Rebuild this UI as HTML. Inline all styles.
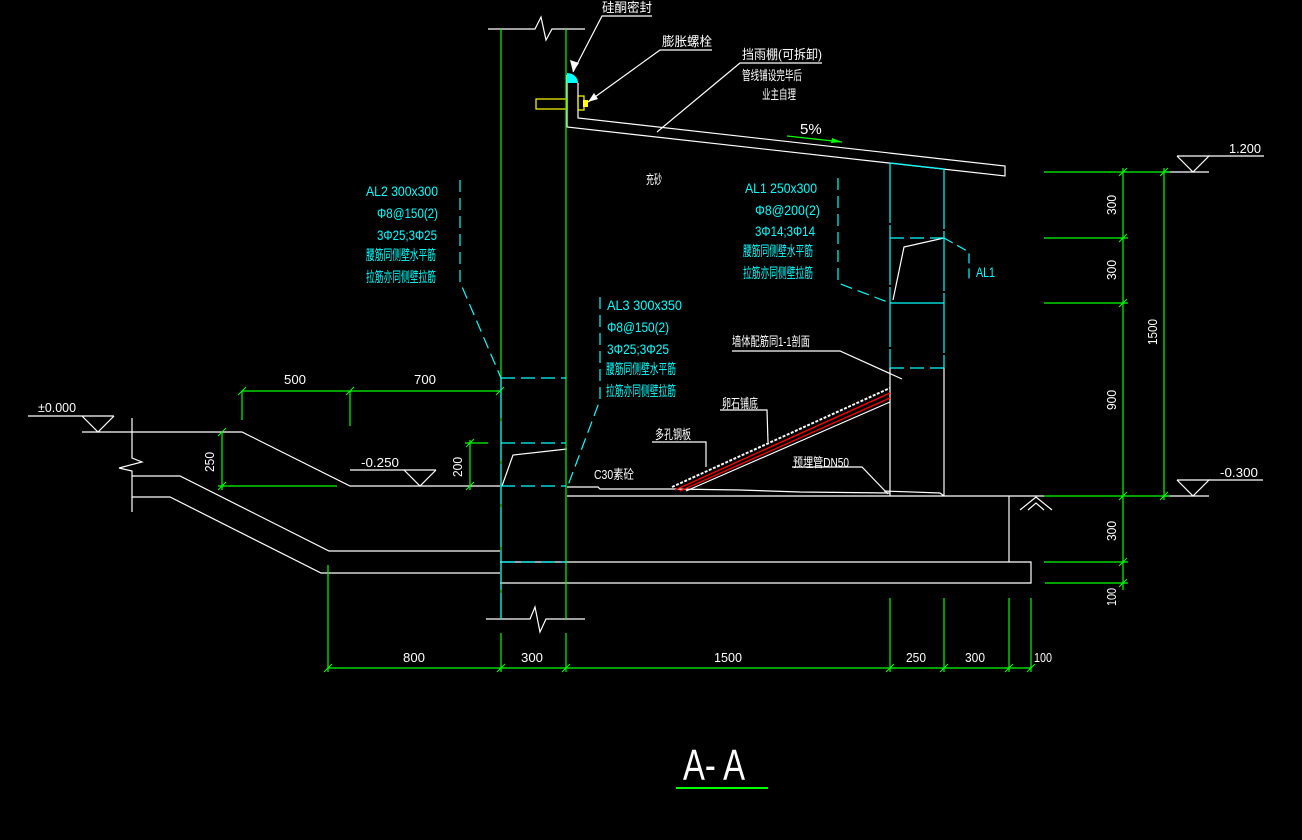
<!DOCTYPE html>
<html><head><meta charset="utf-8"><style>
html,body{margin:0;padding:0;background:#000;}
svg{display:block}
text{font-family:"Liberation Sans","Noto Sans CJK SC",sans-serif;}
.w{fill:#fff}.c{fill:#00ffff}
</style></head><body>
<svg width="1302" height="840" viewBox="0 0 1302 840" xmlns="http://www.w3.org/2000/svg">
<rect width="1302" height="840" fill="#000"/>
<g fill="none" stroke="#fff" stroke-width="1.2">
<polyline points="28,416 114,416"/>
<polyline points="82,416 98,432 114,416"/>
<polyline points="82,432 242,432 350,486 500,486"/>
<polyline points="132,418 132,458 142,462 119,468 132,471 132,512"/>
<polyline points="132,476 180,476 329,551 500,551"/>
<polyline points="132,497 170,497 321,573 500,573"/>
<polyline points="350,470 436,470"/>
<polyline points="404,470 420,486 436,470"/>
<polyline points="488,29 535,29 541,17 546,40 552,29 585,29"/>
<polyline points="486,619 530,619 535,607 540,632 546,619 585,619"/>
<polyline points="567,449 513,455 502,486"/>
<polyline points="567,75 567,127 1005,176 1005,166 578,118 578,83"/>
<polyline points="567,487 598,487 600,489 672,489 740,490 800,492 890,493"/>
<polyline points="567,496 1044,496"/>
<polyline points="1009,496 1009,562"/>
<polyline points="500,562 1031,562 1031,583 500,583"/>
<polyline points="890,368 890,496"/>
<polyline points="944,368 944,496"/>
<polyline points="944,238 904,247 893,300"/>
<polyline points="884,491 940,493 944,496"/>
<polyline points="1020,510 1036,497 1052,510"/>
<polyline points="1028,510 1036,503 1044,510"/>
<polyline points="1164,172 1209,172"/>
<polyline points="1177,156 1193,172 1209,156 1177,156"/>
<polyline points="1209,156 1264,156"/>
<polyline points="1164,496 1209,496"/>
<polyline points="1177,480 1193,496 1209,480 1177,480"/>
<polyline points="1209,480 1263,480"/>
<polyline points="672,487 890,388" stroke-dasharray="3,1.5" stroke-width="2"/>
<polyline points="686,491 890,402"/>
<polyline points="652,16 602,16 573,72"/>
<polyline points="712,50 660,50 588,102"/>
<polyline points="822,63 740,63 657,132"/>
<polyline points="732,351 840,351 902,379"/>
<polyline points="720,410 767,410 768,442"/>
<polyline points="652,442 706,442 706,467"/>
<polyline points="792,467 862,467 888,494"/>
</g>
<polygon points="573,72 570,60 579,63" fill="#fff"/>
<polygon points="588,102 594,93 598,99" fill="#fff"/>
<g fill="none" stroke="#ff0000" stroke-width="1.3">
<polyline points="675,490 890,393"/>
<polyline points="680,491 890,398"/>
</g>
<path d="M567,83 L567,73 A11,10 0 0 1 578,83 Z" fill="#00ffff"/>
<g fill="none" stroke="#ffff00" stroke-width="1.2">
<rect x="536" y="99" width="31" height="10"/>
<rect x="578" y="96" width="6" height="14"/>
</g>
<rect x="583" y="100" width="5" height="7" fill="#ffff00"/>
<g fill="none" stroke="#00ff00" stroke-width="1.2">
<line x1="501" y1="29" x2="501" y2="619"/>
<line x1="566" y1="29" x2="566" y2="619"/>
<line x1="242" y1="391" x2="500" y2="391"/>
<line x1="242" y1="391" x2="242" y2="420"/>
<line x1="350" y1="391" x2="350" y2="426"/>
<line x1="222" y1="432" x2="222" y2="490"/>
<line x1="218" y1="486" x2="337" y2="486"/>
<line x1="470" y1="440" x2="470" y2="490"/>
<line x1="465" y1="443" x2="488" y2="443"/>
<line x1="328" y1="668" x2="1031" y2="668"/>
<line x1="328" y1="565" x2="328" y2="672"/>
<line x1="501" y1="633" x2="501" y2="672"/>
<line x1="566" y1="633" x2="566" y2="672"/>
<line x1="890" y1="598" x2="890" y2="672"/>
<line x1="944" y1="598" x2="944" y2="672"/>
<line x1="1009" y1="598" x2="1009" y2="672"/>
<line x1="1031" y1="598" x2="1031" y2="672"/>
<line x1="1123" y1="168" x2="1123" y2="590"/>
<line x1="1164" y1="168" x2="1164" y2="500"/>
<line x1="1044" y1="172" x2="1170" y2="172"/>
<line x1="1044" y1="238" x2="1128" y2="238"/>
<line x1="1044" y1="303" x2="1128" y2="303"/>
<line x1="1044" y1="496" x2="1170" y2="496"/>
<line x1="1044" y1="562" x2="1128" y2="562"/>
<line x1="1045" y1="583" x2="1128" y2="583"/>
<line x1="787" y1="136" x2="842" y2="142"/>
<line x1="676" y1="788" x2="768" y2="788" stroke-width="2"/>
</g>
<polygon points="842,142 832,138 831,143" fill="#00ff00"/>
<g stroke="#00ff00" stroke-width="1">
<path d="M238,395 l8,-8 M346,395 l8,-8 M496,395 l8,-8 M218,436 l8,-8 M218,490 l8,-8 M466,447 l8,-8 M466,490 l8,-8 M324,672 l8,-8 M497,672 l8,-8 M562,672 l8,-8 M886,672 l8,-8 M940,672 l8,-8 M1005,672 l8,-8 M1027,672 l8,-8 M1119,176 l8,-8 M1160,176 l8,-8 M1119,242 l8,-8 M1119,307 l8,-8 M1119,500 l8,-8 M1160,500 l8,-8 M1119,566 l8,-8 M1119,587 l8,-8"/>
</g>
<g fill="none" stroke="#00ffff" stroke-width="1.2">
<line x1="501" y1="378" x2="566" y2="378" stroke-dasharray="14,6"/>
<line x1="501" y1="443" x2="566" y2="443" stroke-dasharray="14,6"/>
<line x1="501" y1="486" x2="566" y2="486" stroke-dasharray="14,6"/>
<line x1="501" y1="562" x2="566" y2="562" stroke-dasharray="14,6"/>
<line x1="501" y1="378" x2="501" y2="619" stroke-dasharray="40,3"/>
<line x1="890" y1="163" x2="944" y2="169"/>
<line x1="890" y1="163" x2="890" y2="368" stroke-dasharray="60,2"/>
<line x1="944" y1="169" x2="944" y2="368" stroke-dasharray="60,2"/>
<line x1="890" y1="238" x2="944" y2="238" stroke-dasharray="14,6"/>
<line x1="890" y1="303" x2="944" y2="303"/>
<line x1="890" y1="368" x2="944" y2="368" stroke-dasharray="14,6"/>
<polyline points="460,180 460,282 501,378" stroke-dasharray="12,6"/>
<polyline points="838,178 838,283 890,303" stroke-dasharray="12,6"/>
<polyline points="600,297 600,400 567,488" stroke-dasharray="12,6"/>
<polyline points="944,238 969,252 969,282" stroke-dasharray="10,5"/>
</g>
<g class="w" font-size="13">
<text x="602" y="12" textLength="50" lengthAdjust="spacingAndGlyphs">硅酮密封</text>
<text x="662" y="46" textLength="50" lengthAdjust="spacingAndGlyphs">膨胀螺栓</text>
<text x="742" y="59" textLength="80" lengthAdjust="spacingAndGlyphs">挡雨棚(可拆卸)</text>
<text x="742" y="80" textLength="60" lengthAdjust="spacingAndGlyphs">管线铺设完毕后</text>
<text x="762" y="99" textLength="34" lengthAdjust="spacingAndGlyphs">业主自理</text>
<text x="800" y="134" font-size="15">5%</text>
<text x="646" y="184" textLength="16" lengthAdjust="spacingAndGlyphs">充砂</text>
<text x="732" y="346" textLength="78" lengthAdjust="spacingAndGlyphs">墙体配筋同1-1剖面</text>
<text x="722" y="408" textLength="36" lengthAdjust="spacingAndGlyphs">卵石铺底</text>
<text x="655" y="439" textLength="36" lengthAdjust="spacingAndGlyphs">多孔钢板</text>
<text x="594" y="479" textLength="40" lengthAdjust="spacingAndGlyphs">C30素砼</text>
<text x="793" y="467" textLength="56" lengthAdjust="spacingAndGlyphs">预埋管DN50</text>
<text x="38" y="412" textLength="38" lengthAdjust="spacingAndGlyphs">±0.000</text>
<text x="284" y="384" textLength="22" lengthAdjust="spacingAndGlyphs">500</text>
<text x="414" y="384" textLength="22" lengthAdjust="spacingAndGlyphs">700</text>
<text x="361" y="467" textLength="38" lengthAdjust="spacingAndGlyphs">-0.250</text>
<text x="1229" y="153" textLength="32" lengthAdjust="spacingAndGlyphs">1.200</text>
<text x="1220" y="477" textLength="38" lengthAdjust="spacingAndGlyphs">-0.300</text>
<text x="403" y="662" textLength="22" lengthAdjust="spacingAndGlyphs">800</text>
<text x="521" y="662" textLength="22" lengthAdjust="spacingAndGlyphs">300</text>
<text x="714" y="662" textLength="28" lengthAdjust="spacingAndGlyphs">1500</text>
<text x="906" y="662" textLength="20" lengthAdjust="spacingAndGlyphs">250</text>
<text x="965" y="662" textLength="20" lengthAdjust="spacingAndGlyphs">300</text>
<text x="1034" y="662" textLength="18" lengthAdjust="spacingAndGlyphs">100</text>
<g>
<text transform="translate(214,472) rotate(-90)" textLength="20" lengthAdjust="spacingAndGlyphs">250</text>
<text transform="translate(462,477) rotate(-90)" textLength="20" lengthAdjust="spacingAndGlyphs">200</text>
<text transform="translate(1116,215) rotate(-90)" textLength="20" lengthAdjust="spacingAndGlyphs">300</text>
<text transform="translate(1116,280) rotate(-90)" textLength="20" lengthAdjust="spacingAndGlyphs">300</text>
<text transform="translate(1116,410) rotate(-90)" textLength="20" lengthAdjust="spacingAndGlyphs">900</text>
<text transform="translate(1157,345) rotate(-90)" textLength="26" lengthAdjust="spacingAndGlyphs">1500</text>
<text transform="translate(1116,541) rotate(-90)" textLength="20" lengthAdjust="spacingAndGlyphs">300</text>
<text transform="translate(1116,606) rotate(-90)" textLength="18" lengthAdjust="spacingAndGlyphs">100</text>
</g>
<text x="683" y="780" font-size="44" textLength="62" lengthAdjust="spacingAndGlyphs">A- A</text>
</g>
<g class="c" font-size="14">
<text x="366" y="196" textLength="72" lengthAdjust="spacingAndGlyphs">AL2 300x300</text>
<text x="377" y="218" textLength="61" lengthAdjust="spacingAndGlyphs">Φ8@150(2)</text>
<text x="377" y="240" textLength="60" lengthAdjust="spacingAndGlyphs">3Φ25;3Φ25</text>
<text x="366" y="260" textLength="70" lengthAdjust="spacingAndGlyphs">腰筋同侧壁水平筋</text>
<text x="366" y="282" textLength="70" lengthAdjust="spacingAndGlyphs">拉筋亦同侧壁拉筋</text>
<text x="607" y="310" textLength="75" lengthAdjust="spacingAndGlyphs">AL3 300x350</text>
<text x="607" y="332" textLength="62" lengthAdjust="spacingAndGlyphs">Φ8@150(2)</text>
<text x="607" y="354" textLength="62" lengthAdjust="spacingAndGlyphs">3Φ25;3Φ25</text>
<text x="606" y="374" textLength="70" lengthAdjust="spacingAndGlyphs">腰筋同侧壁水平筋</text>
<text x="606" y="396" textLength="70" lengthAdjust="spacingAndGlyphs">拉筋亦同侧壁拉筋</text>
<text x="745" y="193" textLength="72" lengthAdjust="spacingAndGlyphs">AL1 250x300</text>
<text x="755" y="215" textLength="65" lengthAdjust="spacingAndGlyphs">Φ8@200(2)</text>
<text x="755" y="236" textLength="60" lengthAdjust="spacingAndGlyphs">3Φ14;3Φ14</text>
<text x="743" y="256" textLength="70" lengthAdjust="spacingAndGlyphs">腰筋同侧壁水平筋</text>
<text x="743" y="278" textLength="70" lengthAdjust="spacingAndGlyphs">拉筋亦同侧壁拉筋</text>
<text x="976" y="277" textLength="19" lengthAdjust="spacingAndGlyphs">AL1</text>
</g>
</svg>
</body></html>
